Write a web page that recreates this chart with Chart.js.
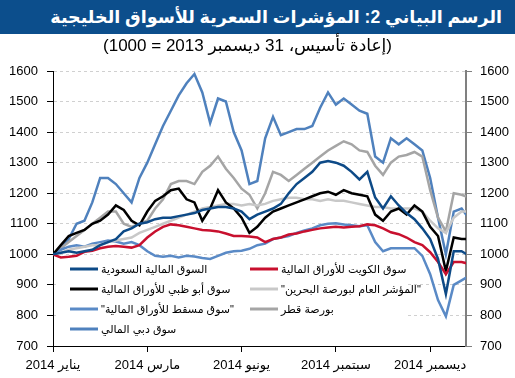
<!DOCTYPE html>
<html><head><meta charset="utf-8">
<script src="https://cdn.jsdelivr.net/npm/chart.js@4.4.1/dist/chart.umd.min.js"></script>
<style>
html,body{margin:0;padding:0;background:#fff;}
#wrap{position:relative;width:515px;height:378px;overflow:hidden;font-family:'Liberation Sans','DejaVu Sans',Arial,sans-serif;}
#c{position:absolute;left:0;top:0;}
#title{position:absolute;left:0;top:0;width:515px;height:34px;background:#0c4e8c;color:#fff;font-weight:bold;font-size:17.5px;line-height:34px;box-sizing:border-box;padding-right:13px;text-align:right;white-space:nowrap;direction:rtl;}
#sub{position:absolute;left:0;top:35px;width:495px;font-size:17px;line-height:21px;color:#000;text-align:center;white-space:nowrap;direction:rtl;}
</style></head>
<body>
<div id="wrap">
<canvas id="c" width="515" height="378"></canvas>
<div id="title">الرسم البياني 2: المؤشرات السعرية للأسواق الخليجية</div>
<div id="sub">(إعادة تأسيس، 31 ديسمبر 2013 = 1000)</div>
</div>
<script>
// x positions are quarter-month steps from the start of the axis (31 Dec 2013)
const tickLabels = ['يناير 2014', 'مارس 2014', 'يونيو 2014', 'سبتمبر 2014', 'ديسمبر 2014'];
const tickSteps = [0, 12, 24, 36, 48];

const seriesNames = [
  'السوق المالية السعودية',
  'سوق الكويت للأوراق المالية',
  'سوق أبو ظبي للأوراق المالية',
  '"المؤشر العام لبورصة البحرين"',
  '"سوق مسقط للأوراق المالية"',
  'بورصة قطر',
  'سوق دبي المالي'
];

const saudi = [1000,1005,1010,1005,1010,1015,1030,1040,1050,1075,1085,1100,1105,1115,1120,1120,1125,1130,1135,1145,1150,1155,1155,1150,1140,1115,1130,1140,1150,1165,1200,1230,1250,1270,1300,1305,1300,1290,1270,1245,1270,1186,1150,1190,1160,1135,1115,1085,1050,985,870,1010,1010,995];
const kuwait = [1000,990,992,995,1008,1012,1020,1025,1027,1025,1022,1030,1055,1075,1090,1098,1095,1090,1085,1080,1078,1075,1068,1060,1060,1058,1055,1040,1050,1055,1065,1068,1075,1080,1085,1088,1090,1088,1090,1092,1098,1095,1085,1072,1066,1055,1040,1030,1007,975,935,975,975,968];
const abuDhabi = [1000,1030,1060,1070,1080,1100,1110,1130,1160,1145,1110,1095,1140,1175,1190,1210,1215,1180,1170,1110,1150,1210,1170,1150,1120,1070,1090,1120,1140,1150,1160,1170,1180,1190,1200,1205,1195,1210,1200,1195,1190,1130,1110,1140,1150,1130,1160,1140,1090,1060,945,1055,1050,1050];
const bahrain = [1000,1005,1015,1020,1025,1030,1030,1040,1045,1050,1055,1070,1080,1090,1100,1110,1120,1130,1140,1150,1155,1160,1165,1165,1160,1165,1160,1165,1175,1180,1185,1185,1180,1180,1175,1180,1175,1175,1170,1165,1160,1155,1155,1150,1150,1150,1150,1140,1110,1085,1070,1120,1140,1140];
const muscat = [1000,1015,1025,1030,1025,1035,1040,1045,1042,1035,1040,1030,1010,995,992,995,990,995,993,988,985,995,1005,1010,1012,1018,1030,1035,1050,1055,1060,1070,1078,1085,1095,1100,1102,1098,1095,1092,1095,1040,1010,1020,1020,1020,1020,995,935,850,797,900,915,930];
const qatar = [1000,1020,1040,1060,1080,1100,1120,1140,1140,1100,1090,1100,1110,1150,1180,1230,1240,1240,1230,1270,1290,1320,1280,1250,1215,1195,1150,1200,1270,1260,1240,1260,1280,1300,1320,1340,1355,1370,1360,1340,1335,1290,1260,1300,1320,1325,1335,1320,1210,1120,1075,1200,1195,1185];
const dubai = [1000,1020,1050,1100,1110,1170,1250,1250,1230,1200,1170,1250,1300,1360,1420,1470,1520,1560,1590,1530,1430,1510,1500,1400,1340,1230,1240,1380,1450,1390,1400,1410,1410,1420,1480,1530,1490,1510,1490,1470,1460,1320,1300,1380,1360,1380,1360,1340,1250,1120,1000,1140,1150,1115];

const seriesValues = [saudi, kuwait, abuDhabi, bahrain, muscat, qatar, dubai];
const seriesColors = ['#0d4a87', '#c8102e', '#000000', '#c8c8c8', '#5a8ac6', '#a5a5a5', '#4f81bd'];

const FONT = "'Liberation Sans','DejaVu Sans',Arial,sans-serif";

const datasets = seriesValues.map((vals, k) => ({
  label: seriesNames[k],
  data: vals.map((v, i) => ({x: i, y: v})),
  borderColor: seriesColors[k],
  backgroundColor: seriesColors[k],
  borderWidth: 2.5,
  pointRadius: 0,
  tension: 0,
  fill: false
}));

const legendBox = {
  id: 'legendBox',
  afterDatasetsDraw(chart) {
    const ctx = chart.ctx;
    ctx.save();
    ctx.fillStyle = '#ffffff';
    ctx.fillRect(56, 261, 352, 84);
    ctx.font = "11px " + FONT;
    ctx.textBaseline = 'middle';
    ctx.textAlign = 'left';
    ctx.direction = 'ltr';
    chart.data.datasets.forEach((ds, i) => {
      const col = i % 2, row = Math.floor(i / 2);
      const x = col === 0 ? 70 : 250;
      const y = 269 + row * 20;
      ctx.strokeStyle = ds.borderColor;
      ctx.lineWidth = 3;
      ctx.beginPath(); ctx.moveTo(x, y); ctx.lineTo(x + 28, y); ctx.stroke();
      ctx.fillStyle = '#000';
      ctx.fillText(ds.label, x + 31, y + 1);
    });
    ctx.restore();
  }
};

new Chart(document.getElementById('c'), {
  type: 'line',
  data: { datasets },
  options: {
    responsive: false,
    animation: false,
    devicePixelRatio: 1,
    layout: { padding: { top: 71, left: 0, right: 0, bottom: 0 } },
    plugins: { legend: { display: false }, tooltip: { enabled: false }, title: { display: false } },
    scales: {
      x: {
        type: 'linear', min: 0, max: 52.56, position: 'bottom',
        afterBuildTicks: s => { s.ticks = tickSteps.map(v => ({value: v})); },
        afterFit: s => { s.height = 32; },
        ticks: {
          autoSkip: false, maxRotation: 0, minRotation: 0, color: '#000', padding: 6,
          font: { family: FONT, size: 13 },
          callback: v => { const k = tickSteps.indexOf(v); return k >= 0 ? tickLabels[k] : ''; }
        },
        grid: { drawOnChartArea: false, drawTicks: true, tickLength: 6, tickColor: '#000', color: '#000' },
        border: { display: true, color: '#000', width: 1 }
      },
      y: {
        type: 'linear', position: 'left', min: 700, max: 1600,
        afterFit: s => { s.width = 53; },
        ticks: { stepSize: 100, color: '#000', padding: 9, font: { family: FONT, size: 13 }, callback: v => String(v) },
        grid: {
          color: c => (c.tick && c.tick.value === 700) ? 'rgba(0,0,0,0)' : '#d0d0d0',
          tickColor: '#000', tickLength: 6, drawOnChartArea: true
        },
        border: { display: true, color: '#000', width: 1, dash: [3, 3] }
      },
      y1: {
        type: 'linear', position: 'right', min: 700, max: 1600,
        afterFit: s => { s.width = 49; },
        ticks: { stepSize: 100, color: '#000', padding: 8, font: { family: FONT, size: 13 }, callback: v => String(v) },
        grid: { drawOnChartArea: false, tickColor: '#808080', tickLength: 6 },
        border: { display: true, color: '#808080', width: 2 }
      }
    }
  },
  plugins: [legendBox]
});
</script>
</body></html>
